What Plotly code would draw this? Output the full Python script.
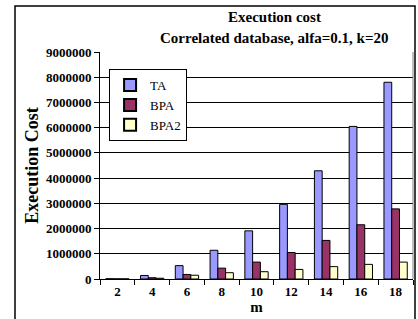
import plotly.graph_objects as go

categories = ["2", "4", "6", "8", "10", "12", "14", "16", "18"]
ta = [10000, 140000, 530000, 1140000, 1910000, 2960000, 4290000, 6050000, 7800000]
bpa = [5000, 50000, 180000, 430000, 670000, 1050000, 1530000, 2150000, 2780000]
bpa2 = [3000, 30000, 150000, 250000, 290000, 380000, 490000, 580000, 670000]
y_ticks = [0, 1000000, 2000000, 3000000, 4000000, 5000000, 6000000, 7000000, 8000000, 9000000]

FONT = "Liberation Serif"

fig = go.Figure()
for name, vals, col in [("TA", ta, "#9999FF"), ("BPA", bpa, "#993366"), ("BPA2", bpa2, "#FFFFCC")]:
    fig.add_trace(go.Bar(name=name, x=categories, y=vals,
                         marker=dict(color=col, line=dict(color="black", width=1))))

fig.update_layout(
    width=418, height=319,
    margin=dict(l=100, r=5, t=52, b=40),
    paper_bgcolor="white", plot_bgcolor="white",
    barmode="group", bargap=0.33, bargroupgap=0,
    font=dict(family=FONT, color="black"),
    showlegend=True,
    legend=dict(x=0.029, y=0.925, xanchor="left", yanchor="top",
                bgcolor="white", bordercolor="black", borderwidth=1,
                font=dict(family=FONT, size=13, color="black"),
                tracegroupgap=0, itemwidth=30, itemsizing="constant"),
)

fig.update_xaxes(type="category", showgrid=False, showline=True, linecolor="black", linewidth=1,
                 ticks="outside", tickson="boundaries", ticklen=5, tickcolor="black",
                 tickfont=dict(family=FONT, size=13, color="black", weight="bold"),
                 title=dict(text="<b>m</b>", font=dict(family=FONT, size=15), standoff=0),
                 mirror=False)
fig.update_yaxes(range=[0, 9000000], tickvals=y_ticks, tickformat="d",
                 showgrid=True, gridcolor="black", gridwidth=1,
                 showline=True, linecolor="black", linewidth=1,
                 ticks="outside", ticklen=5, tickcolor="black",
                 tickfont=dict(family=FONT, size=13, color="black", weight="bold"),
                 title=dict(text="<b>Execution Cost</b>", font=dict(family=FONT, size=18), standoff=2),
                 zeroline=False)

# right border of plot area
fig.add_shape(type="line", xref="paper", yref="paper", x0=1, x1=1, y0=0, y1=1,
              line=dict(color="#808080", width=1))
# outer chart border
fig.add_shape(type="rect", xref="paper", yref="paper",
              x0=(15 - 100) / 313, x1=(415 - 100) / 313,
              y0=(279 - 330) / 227, y1=(279 - 6) / 227,
              line=dict(color="black", width=1.5), layer="above")

fig.add_annotation(text="<b>Execution cost</b>", xref="paper", yref="paper",
                   x=(274 - 100) / 313, y=(279 - 17) / 227, showarrow=False,
                   xanchor="center", yanchor="middle", font=dict(family=FONT, size=15))
fig.add_annotation(text="<b>Correlated database, alfa=0.1, k=20</b>", xref="paper", yref="paper",
                   x=(274 - 100) / 313, y=(279 - 38) / 227, showarrow=False,
                   xanchor="center", yanchor="middle", font=dict(family=FONT, size=15))

fig.write_html(
    "out.html",
    config={"displayModeBar": False, "staticPlot": True},
    post_script=("document.body.style.margin='0';document.body.style.padding='0';"
                 "document.body.style.overflow='hidden';"
                 "document.documentElement.style.overflow='hidden';"),
)
